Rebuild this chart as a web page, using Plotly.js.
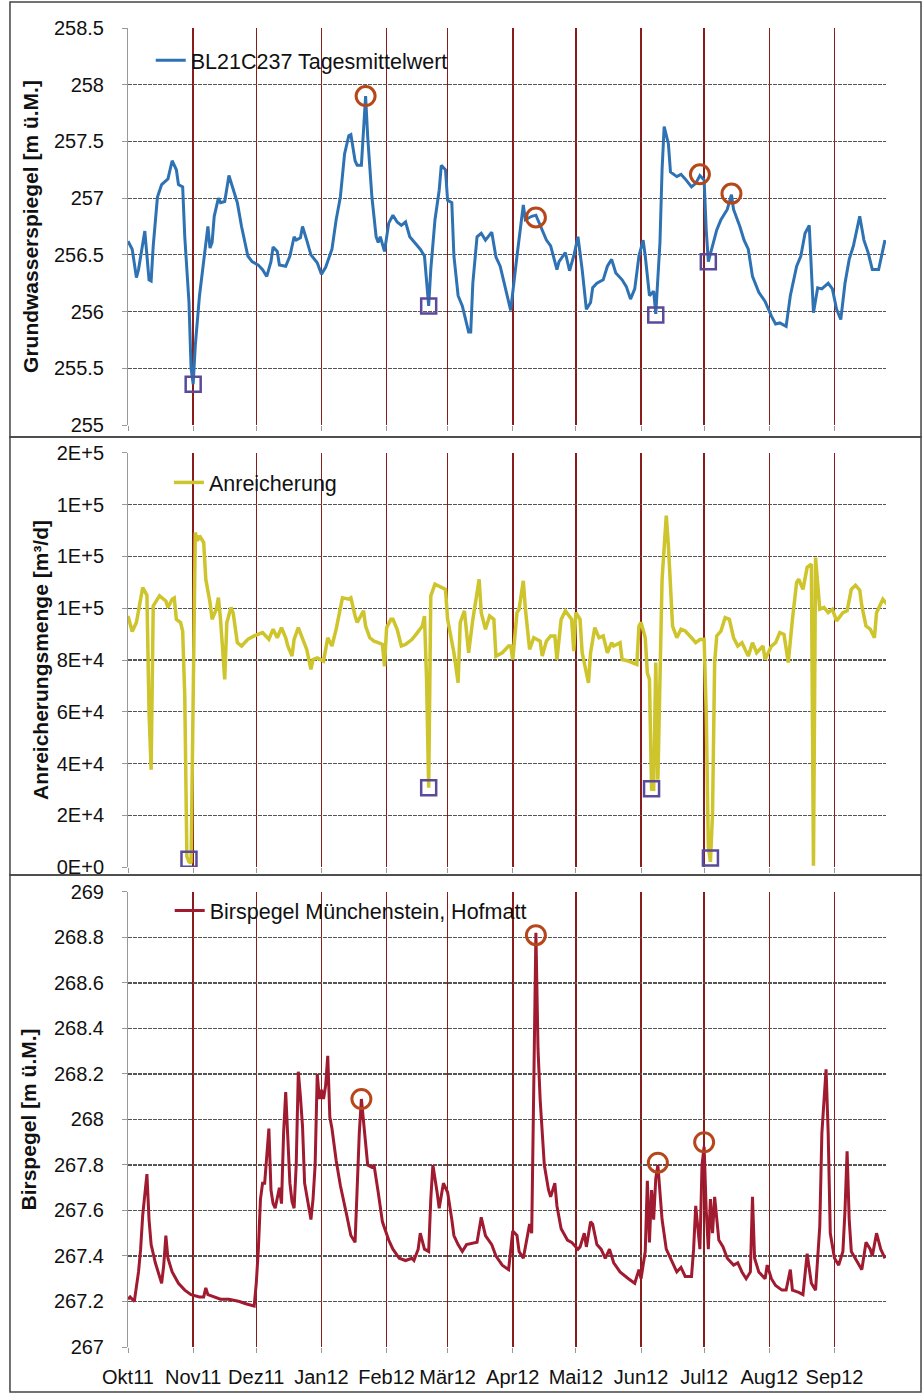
<!DOCTYPE html>
<html><head><meta charset="utf-8">
<script src="https://cdn.plot.ly/plotly-3.0.1.min.js"></script>
</head><body style="margin:0;background:#fff">
<div id="chart" style="width:924px;height:1394px"></div>
<script>
// ---------- Panel 1: Grundwasserspiegel ----------
const gwDates = ['2011-10-01','2011-10-03','2011-10-05','2011-10-06','2011-10-09','2011-10-10','2011-10-11','2011-10-12','2011-10-13','2011-10-15','2011-10-17','2011-10-20','2011-10-22','2011-10-24','2011-10-25','2011-10-27','2011-10-28','2011-10-30','2011-10-31','2011-11-01','2011-11-02','2011-11-04','2011-11-07','2011-11-08','2011-11-09','2011-11-10','2011-11-11','2011-11-13','2011-11-14','2011-11-16','2011-11-18','2011-11-20','2011-11-22','2011-11-24','2011-11-27','2011-11-29','2011-12-02','2011-12-04','2011-12-06','2011-12-08','2011-12-09','2011-12-11','2011-12-12','2011-12-15','2011-12-17','2011-12-19','2011-12-20','2011-12-22','2011-12-23','2011-12-25','2011-12-27','2011-12-30','2012-01-01','2012-01-03','2012-01-06','2012-01-08','2012-01-10','2012-01-12','2012-01-14','2012-01-15','2012-01-17','2012-01-18','2012-01-20','2012-01-22','2012-01-23','2012-01-25','2012-01-27','2012-01-28','2012-01-29','2012-01-31','2012-02-02','2012-02-04','2012-02-06','2012-02-08','2012-02-10','2012-02-12','2012-02-15','2012-02-17','2012-02-19','2012-02-20','2012-02-21','2012-02-22','2012-02-24','2012-02-26','2012-02-27','2012-02-29','2012-03-01','2012-03-03','2012-03-04','2012-03-06','2012-03-08','2012-03-11','2012-03-12','2012-03-13','2012-03-15','2012-03-17','2012-03-19','2012-03-22','2012-03-24','2012-03-26','2012-03-29','2012-03-31','2012-04-03','2012-04-06','2012-04-07','2012-04-10','2012-04-12','2012-04-15','2012-04-17','2012-04-19','2012-04-22','2012-04-23','2012-04-26','2012-04-28','2012-04-30','2012-05-02','2012-05-04','2012-05-06','2012-05-08','2012-05-09','2012-05-11','2012-05-14','2012-05-16','2012-05-18','2012-05-20','2012-05-23','2012-05-25','2012-05-27','2012-05-29','2012-05-31','2012-06-02','2012-06-03','2012-06-05','2012-06-07','2012-06-08','2012-06-10','2012-06-11','2012-06-12','2012-06-14','2012-06-15','2012-06-18','2012-06-20','2012-06-22','2012-06-25','2012-06-27','2012-06-29','2012-07-01','2012-07-02','2012-07-03','2012-07-05','2012-07-07','2012-07-09','2012-07-12','2012-07-14','2012-07-15','2012-07-18','2012-07-20','2012-07-22','2012-07-24','2012-07-27','2012-07-30','2012-08-02','2012-08-04','2012-08-06','2012-08-09','2012-08-11','2012-08-14','2012-08-16','2012-08-18','2012-08-20','2012-08-21','2012-08-22','2012-08-24','2012-08-26','2012-08-29','2012-08-31','2012-09-02','2012-09-04','2012-09-06','2012-09-08','2012-09-10','2012-09-13','2012-09-15','2012-09-17','2012-09-19','2012-09-22','2012-09-25'];
const gwValues = [256.62,256.55,256.30,256.37,256.71,256.46,256.28,256.27,256.58,257.01,257.12,257.17,257.33,257.25,257.12,257.10,256.66,256.08,255.50,255.36,255.70,256.14,256.56,256.75,256.56,256.61,256.84,257.00,256.96,256.97,257.20,257.09,256.96,256.75,256.49,256.44,256.41,256.37,256.31,256.44,256.57,256.53,256.41,256.40,256.49,256.66,256.63,256.65,256.75,256.63,256.50,256.43,256.33,256.39,256.55,256.81,257.01,257.39,257.55,257.56,257.33,257.29,257.29,257.90,257.54,257.01,256.66,256.61,256.66,256.53,256.78,256.85,256.79,256.76,256.79,256.66,256.59,256.55,256.49,256.25,256.05,256.37,256.81,257.07,257.29,257.25,256.98,256.96,256.49,256.14,256.05,255.82,255.82,256.25,256.66,256.69,256.63,256.70,256.48,256.40,256.15,256.01,256.49,256.94,256.81,256.84,256.85,256.72,256.63,256.58,256.37,256.44,256.52,256.36,256.49,256.66,256.37,256.02,256.08,256.21,256.25,256.28,256.40,256.46,256.34,256.28,256.22,256.11,256.20,256.49,256.63,256.49,256.14,256.18,255.98,256.61,257.25,257.63,257.48,257.23,257.19,257.21,257.17,257.10,257.13,257.20,257.16,256.72,256.44,256.58,256.72,256.81,256.90,257.03,256.90,256.75,256.63,256.55,256.31,256.17,256.09,255.96,255.89,255.90,255.87,256.14,256.40,256.49,256.69,256.76,256.37,255.99,256.21,256.20,256.25,256.20,256.02,255.93,256.25,256.46,256.58,256.84,256.63,256.52,256.37,256.37,256.63];
const gwCircleDates = ['2012-01-22','2012-04-12','2012-06-29','2012-07-14'];
const gwCircleValues = [257.90,256.83,257.21,257.04];
const gwSquareDates = ['2011-11-01','2012-02-21','2012-06-08','2012-07-03'];
const gwSquareValues = [255.36,256.05,255.97,256.44];
const gwTickVals = [255,255.5,256,256.5,257,257.5,258,258.5];
const gwTickText = ['255','255.5','256','256.5','257','257.5','258','258.5'];

// ---------- Panel 2: Anreicherung ----------
const anDates = ['2011-10-01','2011-10-03','2011-10-05','2011-10-08','2011-10-10','2011-10-11','2011-10-12','2011-10-13','2011-10-15','2011-10-16','2011-10-19','2011-10-20','2011-10-22','2011-10-23','2011-10-24','2011-10-26','2011-10-27','2011-10-28','2011-10-29','2011-10-30','2011-10-31','2011-11-01','2011-11-02','2011-11-03','2011-11-04','2011-11-06','2011-11-07','2011-11-09','2011-11-10','2011-11-12','2011-11-13','2011-11-14','2011-11-16','2011-11-17','2011-11-19','2011-11-20','2011-11-22','2011-11-24','2011-11-27','2011-11-30','2011-12-02','2011-12-04','2011-12-07','2011-12-09','2011-12-11','2011-12-13','2011-12-15','2011-12-16','2011-12-18','2011-12-19','2011-12-21','2011-12-23','2011-12-25','2011-12-27','2011-12-28','2011-12-30','2012-01-02','2012-01-04','2012-01-06','2012-01-08','2012-01-10','2012-01-11','2012-01-14','2012-01-15','2012-01-17','2012-01-18','2012-01-21','2012-01-22','2012-01-24','2012-01-26','2012-01-28','2012-01-30','2012-01-31','2012-02-01','2012-02-03','2012-02-04','2012-02-06','2012-02-08','2012-02-10','2012-02-13','2012-02-15','2012-02-18','2012-02-19','2012-02-20','2012-02-21','2012-02-22','2012-02-24','2012-02-26','2012-02-29','2012-03-01','2012-03-03','2012-03-04','2012-03-06','2012-03-07','2012-03-09','2012-03-11','2012-03-13','2012-03-14','2012-03-16','2012-03-17','2012-03-19','2012-03-21','2012-03-23','2012-03-24','2012-03-27','2012-03-30','2012-03-31','2012-04-01','2012-04-03','2012-04-04','2012-04-06','2012-04-07','2012-04-09','2012-04-11','2012-04-14','2012-04-15','2012-04-17','2012-04-19','2012-04-21','2012-04-22','2012-04-24','2012-04-26','2012-04-27','2012-04-29','2012-04-30','2012-05-01','2012-05-03','2012-05-04','2012-05-07','2012-05-08','2012-05-10','2012-05-12','2012-05-14','2012-05-16','2012-05-18','2012-05-19','2012-05-22','2012-05-23','2012-05-26','2012-05-28','2012-05-30','2012-05-31','2012-06-01','2012-06-03','2012-06-04','2012-06-05','2012-06-06','2012-06-07','2012-06-08','2012-06-09','2012-06-10','2012-06-11','2012-06-13','2012-06-14','2012-06-16','2012-06-18','2012-06-20','2012-06-22','2012-06-25','2012-06-27','2012-06-29','2012-07-01','2012-07-02','2012-07-03','2012-07-04','2012-07-05','2012-07-06','2012-07-07','2012-07-09','2012-07-11','2012-07-13','2012-07-15','2012-07-17','2012-07-19','2012-07-22','2012-07-24','2012-07-26','2012-07-29','2012-07-30','2012-08-02','2012-08-04','2012-08-06','2012-08-08','2012-08-10','2012-08-12','2012-08-14','2012-08-15','2012-08-17','2012-08-19','2012-08-21','2012-08-22','2012-08-23','2012-08-25','2012-08-27','2012-08-29','2012-08-31','2012-09-02','2012-09-05','2012-09-07','2012-09-09','2012-09-11','2012-09-13','2012-09-14','2012-09-16','2012-09-18','2012-09-20','2012-09-21','2012-09-24','2012-09-26'];
const anValues = [97000,91000,94500,108000,105000,60000,37600,100900,103500,104800,102800,100300,103500,104000,95700,94500,91200,66000,4000,2000,1500,60000,129300,126000,128000,125400,111200,102200,95700,99600,104100,95700,72500,94500,100300,98300,86700,85400,88000,89300,89900,90600,88000,91900,88600,92500,88600,85400,81500,88000,92500,88600,84100,76400,80200,80800,79600,88600,85400,91900,100900,104000,103500,104000,97000,94500,99000,93100,88600,87300,86700,86000,77600,92500,95700,95700,91900,85400,86000,87900,89900,93100,97000,72500,30600,104800,109300,108600,107300,95700,86700,82800,71200,94500,99000,82800,95700,100900,111200,98300,91900,97000,95700,81500,82800,85400,85400,80200,98300,99600,110600,99600,84100,88600,87300,81500,87300,89300,89300,80200,95700,99000,97700,95700,83400,98300,95700,82800,71200,82800,92500,88600,89300,82800,86700,85400,86700,80200,79600,79000,78300,93100,94500,88600,75000,72500,30100,30000,79000,33700,75000,111200,135800,124200,93100,88600,91900,91200,88600,86700,87900,88000,59700,7900,2000,20800,79000,89300,91200,96400,95700,88600,85400,86700,81500,86700,82800,85400,80200,85400,86700,90600,89900,79000,95700,110000,111200,107300,115800,117000,500,119600,99600,100300,98300,99600,95100,98300,99000,107300,108900,107000,100900,93100,91900,88600,98300,103500,101600];
const anSquareDates = ['2011-10-30','2012-02-21','2012-06-06','2012-07-04'];
const anSquareValues = [3000,30600,30200,3500];
const anTickVals = [0,20000,40000,60000,80000,100000,120000,140000,160000];
const anTickText = ['0E+0','2E+4','4E+4','6E+4','8E+4','1E+5','1E+5','1E+5','2E+5'];

// ---------- Panel 3: Birspegel ----------
const biDates = ['2011-10-01','2011-10-02','2011-10-04','2011-10-06','2011-10-07','2011-10-08','2011-10-10','2011-10-11','2011-10-12','2011-10-14','2011-10-16','2011-10-17','2011-10-18','2011-10-19','2011-10-20','2011-10-22','2011-10-25','2011-10-28','2011-10-31','2011-11-04','2011-11-06','2011-11-07','2011-11-08','2011-11-11','2011-11-14','2011-11-18','2011-11-23','2011-11-26','2011-11-30','2011-12-01','2011-12-02','2011-12-03','2011-12-04','2011-12-05','2011-12-06','2011-12-07','2011-12-08','2011-12-09','2011-12-10','2011-12-11','2011-12-12','2011-12-13','2011-12-14','2011-12-15','2011-12-16','2011-12-17','2011-12-18','2011-12-19','2011-12-20','2011-12-21','2011-12-22','2011-12-23','2011-12-24','2011-12-26','2011-12-27','2011-12-28','2011-12-29','2011-12-30','2011-12-31','2012-01-01','2012-01-02','2012-01-03','2012-01-04','2012-01-05','2012-01-06','2012-01-08','2012-01-10','2012-01-13','2012-01-15','2012-01-17','2012-01-18','2012-01-19','2012-01-20','2012-01-21','2012-01-22','2012-01-23','2012-01-25','2012-01-26','2012-01-28','2012-01-30','2012-02-02','2012-02-04','2012-02-07','2012-02-10','2012-02-13','2012-02-14','2012-02-16','2012-02-17','2012-02-19','2012-02-21','2012-02-22','2012-02-23','2012-02-25','2012-02-26','2012-02-28','2012-03-01','2012-03-03','2012-03-04','2012-03-06','2012-03-08','2012-03-10','2012-03-15','2012-03-17','2012-03-19','2012-03-22','2012-03-24','2012-03-27','2012-03-30','2012-04-01','2012-04-03','2012-04-04','2012-04-06','2012-04-08','2012-04-09','2012-04-10','2012-04-11','2012-04-12','2012-04-13','2012-04-14','2012-04-16','2012-04-18','2012-04-19','2012-04-21','2012-04-22','2012-04-24','2012-04-27','2012-04-29','2012-05-02','2012-05-03','2012-05-05','2012-05-06','2012-05-08','2012-05-09','2012-05-11','2012-05-13','2012-05-15','2012-05-17','2012-05-19','2012-05-22','2012-05-26','2012-05-29','2012-05-31','2012-06-01','2012-06-03','2012-06-04','2012-06-05','2012-06-06','2012-06-07','2012-06-08','2012-06-09','2012-06-11','2012-06-13','2012-06-16','2012-06-18','2012-06-20','2012-06-22','2012-06-25','2012-06-26','2012-06-27','2012-06-28','2012-06-29','2012-06-30','2012-07-01','2012-07-02','2012-07-03','2012-07-04','2012-07-05','2012-07-06','2012-07-08','2012-07-10','2012-07-12','2012-07-15','2012-07-17','2012-07-19','2012-07-21','2012-07-23','2012-07-24','2012-07-25','2012-07-27','2012-07-30','2012-07-31','2012-08-02','2012-08-04','2012-08-07','2012-08-09','2012-08-11','2012-08-12','2012-08-15','2012-08-17','2012-08-19','2012-08-21','2012-08-23','2012-08-25','2012-08-26','2012-08-28','2012-08-29','2012-08-30','2012-09-01','2012-09-03','2012-09-05','2012-09-06','2012-09-07','2012-09-08','2012-09-09','2012-09-11','2012-09-14','2012-09-16','2012-09-18','2012-09-19','2012-09-21','2012-09-23','2012-09-25'];
const biValues = [267.21,267.22,267.20,267.33,267.43,267.58,267.76,267.56,267.45,267.37,267.31,267.28,267.36,267.49,267.39,267.33,267.28,267.25,267.23,267.22,267.22,267.26,267.23,267.22,267.21,267.21,267.20,267.19,267.18,267.28,267.43,267.65,267.72,267.72,267.85,267.96,267.69,267.63,267.61,267.66,267.70,267.63,267.94,268.12,267.95,267.72,267.64,267.61,267.80,268.21,268.10,267.97,267.72,267.62,267.56,267.65,267.80,268.20,268.09,268.13,268.09,268.15,268.28,268.01,267.96,267.82,267.71,267.58,267.49,267.46,267.70,267.94,268.09,267.98,267.90,267.80,267.79,267.80,267.68,267.55,267.47,267.43,267.39,267.38,267.39,267.38,267.43,267.50,267.43,267.42,267.65,267.80,267.68,267.61,267.72,267.68,267.56,267.49,267.45,267.42,267.45,267.46,267.57,267.49,267.45,267.40,267.36,267.34,267.51,267.49,267.42,267.39,267.49,267.54,267.50,268.10,268.82,268.31,268.09,267.80,267.69,267.66,267.72,267.62,267.52,267.47,267.46,267.43,267.44,267.50,267.44,267.55,267.54,267.45,267.43,267.39,267.43,267.37,267.33,267.30,267.28,267.34,267.30,267.42,267.73,267.46,267.69,267.56,267.74,267.80,267.56,267.43,267.37,267.33,267.35,267.31,267.31,267.43,267.62,267.53,267.43,267.80,267.88,267.60,267.43,267.65,267.50,267.66,267.47,267.44,267.39,267.36,267.37,267.33,267.30,267.33,267.66,267.39,267.33,267.30,267.36,267.30,267.27,267.25,267.25,267.34,267.25,267.24,267.23,267.41,267.28,267.25,267.53,267.94,268.22,267.94,267.50,267.39,267.36,267.42,267.60,267.86,267.56,267.42,267.39,267.34,267.46,267.43,267.40,267.50,267.43,267.39];
const biCircleDates = ['2012-01-20','2012-04-12','2012-06-09','2012-07-01'];
const biCircleValues = [268.09,268.81,267.81,267.90];
const biTickVals = [267,267.2,267.4,267.6,267.8,268,268.2,268.4,268.6,268.8,269];
const biTickText = ['267','267.2','267.4','267.6','267.8','268','268.2','268.4','268.6','268.8','269'];

// ---------- x axis ----------
const monthTicks = ['2011-10-01','2011-11-01','2011-12-01','2012-01-01','2012-02-01','2012-03-01','2012-04-01','2012-05-01','2012-06-01','2012-07-01','2012-08-01','2012-09-01'];
const monthLabels = ['Okt11','Nov11','Dez11','Jan12','Feb12','Mär12','Apr12','Mai12','Jun12','Jul12','Aug12','Sep12'];

const FONT = 'Liberation Sans, Arial, sans-serif';
const circleMarker = {symbol:'circle-open', size:19, color:'#B5471B', line:{width:3, color:'#B5471B'}};
const squareMarker = {symbol:'square-open', size:15, color:'#5A4A9C', line:{width:2.5, color:'#5A4A9C'}};

const traces = [
  {x:gwDates, y:gwValues, type:'scatter', mode:'lines', name:'BL21C237 Tagesmittelwert',
   line:{color:'#2E72B4', width:3}, xaxis:'x', yaxis:'y', legend:'legend'},
  {x:gwCircleDates, y:gwCircleValues, type:'scatter', mode:'markers', marker:circleMarker, showlegend:false, xaxis:'x', yaxis:'y'},
  {x:gwSquareDates, y:gwSquareValues, type:'scatter', mode:'markers', marker:squareMarker, showlegend:false, xaxis:'x', yaxis:'y'},
  {x:anDates, y:anValues, type:'scatter', mode:'lines', name:'Anreicherung',
   line:{color:'#CEC42C', width:3.5}, xaxis:'x2', yaxis:'y2', legend:'legend2'},
  {x:anSquareDates, y:anSquareValues, type:'scatter', mode:'markers', marker:squareMarker, showlegend:false, xaxis:'x2', yaxis:'y2'},
  {x:biDates, y:biValues, type:'scatter', mode:'lines', name:'Birspegel Münchenstein, Hofmatt',
   line:{color:'#A01A30', width:3}, xaxis:'x3', yaxis:'y3', legend:'legend3'},
  {x:biCircleDates, y:biCircleValues, type:'scatter', mode:'markers', marker:circleMarker, showlegend:false, xaxis:'x3', yaxis:'y3'}
];

function xAxis(anchor, labels){
  return {type:'date', range:['2011-10-01','2012-09-25 12:00'], anchor:anchor,
    tickvals:monthTicks, ticktext:monthLabels, showticklabels:labels,
    showgrid:true, gridcolor:'#8B1C1C', gridwidth:1.5,
    ticks:'outside', ticklen:5, tickcolor:'#999', showline:false, zeroline:false,
    tickfont:{family:FONT, size:20, color:'#111'}, ticklabelstandoff:7, fixedrange:true};
}
function yAxis(domain, range, tv, tt, title, standoff){
  return {domain:domain, range:range, tickvals:tv, ticktext:tt,
    showgrid:true, gridcolor:'#555', griddash:'4px,1px', gridwidth:1.2,
    showline:true, linecolor:'#999', linewidth:1, zeroline:false,
    ticks:'outside', ticklen:5, tickcolor:'#999', ticklabelstandoff:14,
    tickfont:{family:FONT, size:20, color:'#111'},
    title:{text:title, standoff:standoff, font:{family:FONT, size:21, weight:'bold', color:'#111'}}};
}
function legendAt(x, y){
  return {x:x, y:y, xanchor:'left', yanchor:'top', bgcolor:'rgba(0,0,0,0)', borderwidth:0,
    font:{family:FONT, size:21.5, color:'#111'}};
}
function frame(y0, y1){
  return {type:'rect', xref:'paper', yref:'paper', x0:-0.1557, x1:1.0462, y0:y0, y1:y1,
    line:{color:'#444', width:1.5}, fillcolor:'rgba(0,0,0,0)', layer:'above'};
}

const layout = {
  width:924, height:1394, margin:{l:128, r:38, t:28, b:47},
  paper_bgcolor:'#fff', plot_bgcolor:'#fff', showlegend:true,
  xaxis: xAxis('y', false),
  xaxis2: xAxis('y2', false),
  xaxis3: xAxis('y3', true),
  yaxis: yAxis([0.6990, 1], [255, 258.5], gwTickVals, gwTickText, 'Grundwasserspiegel [m ü.M.]', 9),
  yaxis2: yAxis([0.3639, 0.6778], [0, 160000], anTickVals, anTickText, 'Anreicherungsmenge [m³/d]', 2),
  yaxis3: yAxis([0, 0.3450], [267, 269], biTickVals, biTickText, 'Birspegel [m ü.M.]', 11),
  legend: legendAt(0.030, 0.9910),
  legend2: legendAt(0.054, 0.6710),
  legend3: legendAt(0.055, 0.3465),
  shapes:[frame(0.6899, 1.0197), frame(0.3578, 0.6899), frame(-0.0341, 0.3578)]
};

Plotly.newPlot('chart', traces, layout, {staticPlot:true, displayModeBar:false});
</script>
</body></html>
